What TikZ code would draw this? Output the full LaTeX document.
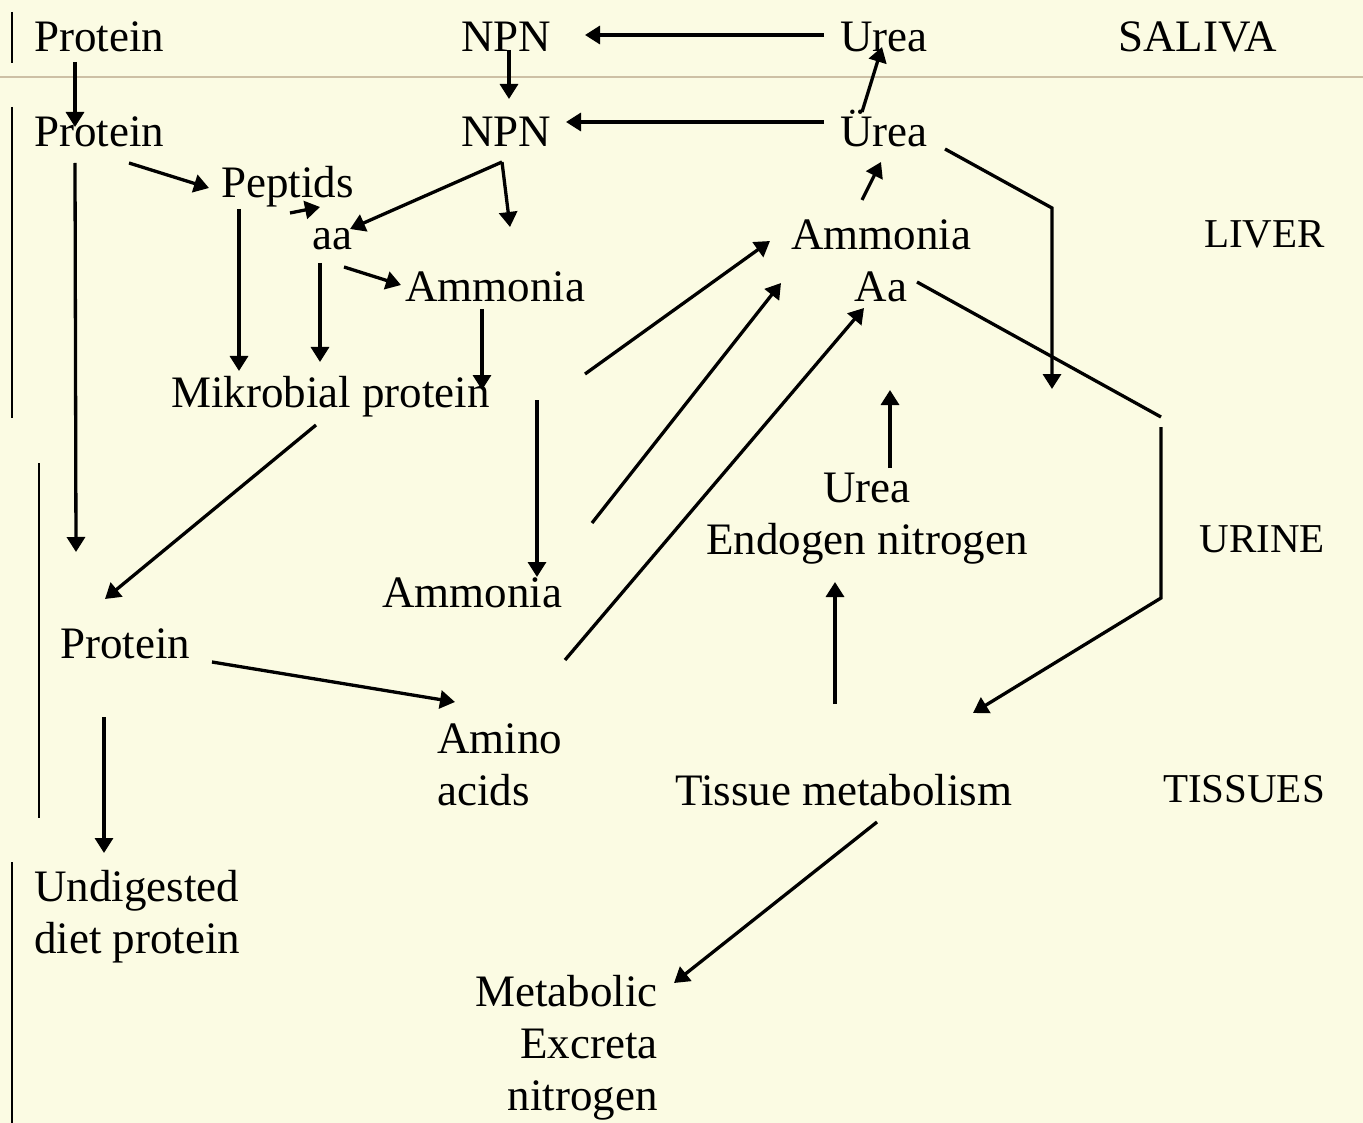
\documentclass[tikz,border=0pt]{standalone}
\usepackage{fontspec}
\setmainfont{Liberation Serif}
\usetikzlibrary{arrows.meta}
\definecolor{bg}{RGB}{251,251,227}
\definecolor{sepline}{RGB}{205,192,165}
\begin{document}
\begin{tikzpicture}[x=1pt,y=-1pt,
  lbl/.style={font=\fontsize{45}{52}\selectfont, inner sep=0pt, anchor=base west},
  reg/.style={font=\fontsize{41}{48}\selectfont, inner sep=0pt, anchor=base east},
  arr/.style={line width=3.3pt, -{Triangle[length=15pt,width=18pt]}},
  ln/.style={line width=3.3pt},
  bar/.style={line width=1.6pt}]
\fill[bg] (0,0) rectangle (1363,1123);
\useasboundingbox (0,0) rectangle (1363,1123);
% separators
\draw[sepline, line width=1.6pt] (0,77) -- (1363,77);
\draw[bar] (12,12) -- (12,63);
\draw[bar] (12,107) -- (12,418);
\draw[bar] (39,463) -- (39,818);
\draw[bar] (12,862) -- (12,1123);
% nodes
\node[lbl] (sProt) at (34,52) {Protein};
\node[lbl] (sNPN) at (461,52) {NPN};
\node[lbl] (sUrea) at (840,52) {Urea};
\node[lbl] (saliva) at (1118,52) {SALIVA};
\node[lbl] (rProt) at (34,147) {Protein};
\node[lbl] (rNPN) at (461,147) {NPN};
\node[lbl] (rUrea) at (840,147) {Ürea};
\node[lbl] (pept) at (221,198) {Peptids};
\node[lbl] (aa) at (312,250) {aa};
\node[lbl] (rAmm) at (405,302) {Ammonia};
\node[lbl] (mikro) at (171,407) {Mikrobial protein};
\node[lbl, anchor=base, align=center] (lAmm) at (881,302) {Ammonia\\Aa};
\node[reg] (liver) at (1325,248) {LIVER};
\node[lbl] (mAmm) at (382,607) {Ammonia};
\node[lbl, anchor=base, align=center] (urea2) at (867,554) {Urea\\Endogen nitrogen};
\node[reg] (urine) at (1325,552) {URINE};
\node[lbl] (iProt) at (60,658) {Protein};
\node[lbl, align=left] (amino) at (437,805) {Amino\\acids};
\node[lbl] (tissue) at (675,805) {Tissue metabolism};
\node[reg] (tissues) at (1325,802) {TISSUES};
\node[lbl, align=left] (undig) at (34,953) {Undigested\\diet protein};
\node[lbl, anchor=base east, align=right] (metab) at (658,1110) {Metabolic\\Excreta\\nitrogen};
% connectors
\draw[arr] ([shift={(41,10)}]sProt.base west) -- ([shift={(41,-20)}]rProt.base west);
\draw[arr] ([shift={(48,-2)}]sNPN.base west) -- ([shift={(48,-48)}]rNPN.base west);
\draw[arr] ([shift={(-16,-17)}]sUrea.base west) -- ([shift={(124,-17)}]sNPN.base west);
\draw[arr] ([shift={(-16,-25)}]rUrea.base west) -- ([shift={(105,-25)}]rNPN.base west);
\draw[arr] ([shift={(22,-35)}]rUrea.base west) -- ([shift={(42,-5)}]sUrea.base west);
\draw[arr] ([shift={(-19,-102)}]lAmm.base) -- ([shift={(41,15)}]rUrea.base west);
\coordinate (uEnd) at (1052,389);
\draw[arr] ([shift={(105,2)}]rUrea.base west) -- ++(107,59) -- (uEnd);
\coordinate (aBend) at (1161,417);
\coordinate (aStart) at (1161,427);
\draw[ln] ([shift={(36,-20)}]lAmm.base) -- (aBend);
\draw[arr] (aStart) -- ++(0,171) -- ([shift={(298,-92)}]tissue.base west);
\draw[arr] ([shift={(180,72)}]rAmm.base west) -- ([shift={(-111,-61)}]lAmm.base);
\draw[arr] ([shift={(210,-84)}]mAmm.base west) -- ([shift={(-100,-19)}]lAmm.base);
\draw[arr] ([shift={(128,-145)}]amino.base west) -- ([shift={(-17,6)}]lAmm.base);
\draw[arr] ([shift={(23,-86)}]urea2.base) -- ([shift={(9,88)}]lAmm.base);
\draw[arr] ([shift={(95,16)}]rProt.base west) -- ([shift={(-12,-10)}]pept.base west);
\draw[arr] ([shift={(69,15)}]pept.base west) -- ([shift={(8,-43)}]aa.base west);
\coordinate (npnFork) at ([shift={(41,15)}]rNPN.base west);
\draw[arr] (npnFork) -- ([shift={(38,-21)}]aa.base west);
\draw[arr] (npnFork) -- ([shift={(105,-75)}]rAmm.base west);
\draw[arr] ([shift={(32,17)}]aa.base west) -- ([shift={(-4,-17)}]rAmm.base west);
\draw[arr] ([shift={(18,11)}]pept.base west) -- ([shift={(68,-36)}]mikro.base west);
\draw[arr] ([shift={(8,13)}]aa.base west) -- ([shift={(149,-45)}]mikro.base west);
\draw[arr] ([shift={(77,7)}]rAmm.base west) -- ([shift={(311,-17)}]mikro.base west);
\draw[arr] ([shift={(41,16)}]rProt.base west) -- ([shift={(16,-106)}]iProt.base west);
\draw[arr] ([shift={(145,18)}]mikro.base west) -- ([shift={(45,-59)}]iProt.base west);
\draw[arr] ([shift={(132,98)}]rAmm.base west) -- ([shift={(155,-30)}]mAmm.base west);
\draw[arr] ([shift={(152,4)}]iProt.base west) -- ([shift={(18,-103)}]amino.base west);
\draw[arr] ([shift={(44,59)}]iProt.base west) -- ([shift={(70,-100)}]undig.base west);
\draw[arr] ([shift={(160,-101)}]tissue.base west) -- ([shift={(-32,28)}]urea2.base);
\draw[arr] ([shift={(202,17)}]tissue.base west) -- ([shift={(16,-127)}]metab.base east);
\end{tikzpicture}
\end{document}
